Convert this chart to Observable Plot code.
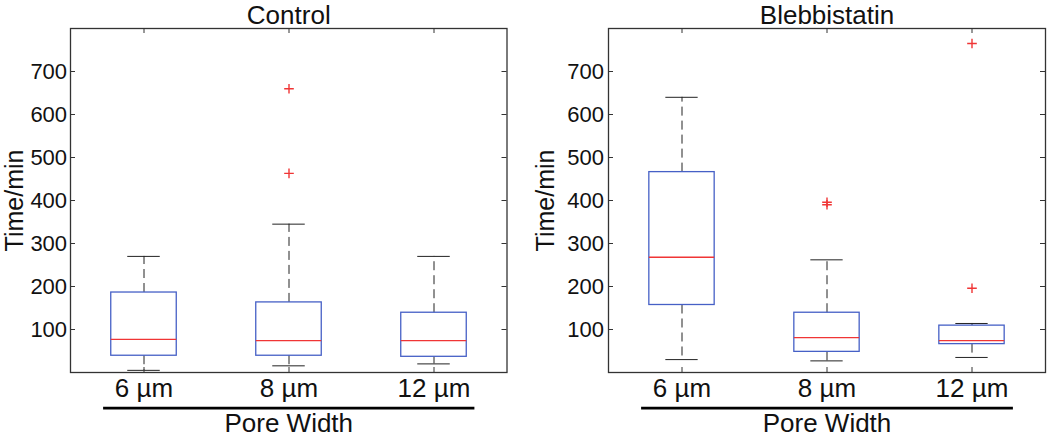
<!DOCTYPE html>
<html><head><meta charset="utf-8">
<script src="https://cdn.jsdelivr.net/npm/d3@7"></script>
<script src="https://cdn.jsdelivr.net/npm/@observablehq/plot@0.6"></script>
<style>
body{margin:0;background:#fff;}
#wrap{display:flex;width:1050px;height:441px;overflow:hidden;}
#wrap svg{font-family:"Liberation Sans",Arial,Helvetica,sans-serif;background:#fff;}
</style></head><body><div id="wrap"></div>
<script>
// ---- data ----
const categories = ["6 µm", "8 µm", "12 µm"];
const yTicks = [100, 200, 300, 400, 500, 600, 700];
const yDomain = [0, 800];
const panelTitles = ["Control", "Blebbistatin"];
const yLabel = "Time/min";
const xLabel = "Pore Width";

// Control
const controlLow    = [5, 15.5, 20];
const controlQ1     = [39, 39, 36.5];
const controlMedian = [77, 74, 74];
const controlQ3     = [186, 163, 139];
const controlHigh   = [270, 345, 270];
const controlOutlierCat = ["8 µm", "8 µm"];
const controlOutlierVal = [660, 463];

// Blebbistatin
const blebLow    = [30, 27, 35];
const blebQ1     = [157, 48, 66];
const blebMedian = [268, 81, 74];
const blebQ3     = [466, 139, 109];
const blebHigh   = [640, 262, 114];
const blebOutlierCat = ["8 µm", "8 µm", "12 µm", "12 µm"];
const blebOutlierVal = [390, 396, 765, 196];

// ---- styles ----
const BLUE = "#4660c6", RED = "#f03535", AXIS = "#333";
const font = '"Liberation Sans", Arial, Helvetica, sans-serif';

function rowsOf(low, q1, med, q3, high) {
  return categories.map((c, i) => ({cat: c, low: low[i], q1: q1[i], med: med[i], q3: q3[i], high: high[i]}));
}
function outliersOf(cats, vals) {
  return cats.map((c, i) => ({cat: c, v: vals[i]}));
}

function panel({title, rows, outliers, width, marginLeft, marginRight, labelDx, tickPadding}) {
  const height = 441, marginTop = 28, marginBottom = 69;
  const plotW = width - marginLeft - marginRight;
  const plotH = height - marginTop - marginBottom;
  const band = plotW / categories.length;
  const boxInset = (band - 66) / 2;
  const capInset = (band - 33) / 2;
  return Plot.plot({
    width, height, marginLeft, marginRight, marginTop, marginBottom,
    style: {fontFamily: font, background: "#fff", overflow: "visible"},
    x: {domain: categories, padding: 0},
    y: {domain: yDomain},
    marks: [
      // whiskers
      Plot.ruleX(rows, {x: "cat", y1: "q3", y2: "high", stroke: "#222", strokeDasharray: "9,5"}),
      Plot.ruleX(rows, {x: "cat", y1: "q1", y2: "low", stroke: "#222", strokeDasharray: "9,5"}),
      // caps
      Plot.tickY(rows, {x: "cat", y: "high", stroke: "#222", insetLeft: capInset, insetRight: capInset}),
      Plot.tickY(rows, {x: "cat", y: "low", stroke: "#222", insetLeft: capInset, insetRight: capInset}),
      // boxes
      Plot.barY(rows, {x: "cat", y1: "q1", y2: "q3", fill: "none", stroke: BLUE, strokeWidth: 1.3, insetLeft: boxInset, insetRight: boxInset}),
      // medians
      Plot.tickY(rows, {x: "cat", y: "med", stroke: RED, strokeWidth: 1.3, insetLeft: boxInset, insetRight: boxInset}),
      // outliers
      Plot.dot(outliers, {x: "cat", y: "v", symbol: "plus", r: 3.2, stroke: RED, strokeWidth: 1.4}),
      // frame and inward ticks
      Plot.frame({stroke: AXIS, strokeWidth: 1.3}),
      Plot.tickY(yTicks, {y: d => d, stroke: AXIS, insetRight: plotW - 5}),
      Plot.tickY(yTicks, {y: d => d, stroke: AXIS, insetLeft: plotW - 5}),
      Plot.tickX(categories, {x: d => d, stroke: AXIS, insetBottom: plotH - 5}),
      Plot.tickX(categories, {x: d => d, stroke: AXIS, insetTop: plotH - 5}),
      // axes labels
      Plot.axisY({ticks: yTicks, tickSize: 0, tickPadding, fontSize: 22, label: null, fill: "#111"}),
      Plot.axisX({tickSize: 0, tickPadding: 6, fontSize: 26, label: null, fill: "#111"}),
      // title
      Plot.text([title], {text: d => d, frameAnchor: "top", textAnchor: "middle", lineAnchor: "bottom", dy: -4.7, fontSize: 26, fill: "#111"}),
      // y label
      Plot.text([yLabel], {text: d => d, frameAnchor: "left", textAnchor: "middle", rotate: -90, dx: labelDx, fontSize: 25, fill: "#111"}),
      // group line under the tick labels
      Plot.frame({anchor: "bottom", dy: 35.7, insetLeft: 34, insetRight: 34, stroke: "#000", strokeWidth: 2.8}),
      // x label
      Plot.text([xLabel], {text: d => d, frameAnchor: "bottom", textAnchor: "middle", lineAnchor: "bottom", dy: 59, fontSize: 26, fill: "#111"})
    ]
  });
}

const wrap = document.getElementById("wrap");
wrap.append(panel({
  title: panelTitles[0],
  rows: rowsOf(controlLow, controlQ1, controlMedian, controlQ3, controlHigh),
  outliers: outliersOf(controlOutlierCat, controlOutlierVal),
  width: 540, marginLeft: 70, marginRight: 33.5, labelDx: -55.7, tickPadding: 3.4
}));
wrap.append(panel({
  title: panelTitles[1],
  rows: rowsOf(blebLow, blebQ1, blebMedian, blebQ3, blebHigh),
  outliers: outliersOf(blebOutlierCat, blebOutlierVal),
  width: 510, marginLeft: 68, marginRight: 5, labelDx: -62.7, tickPadding: 4.5
}));
</script></body></html>
